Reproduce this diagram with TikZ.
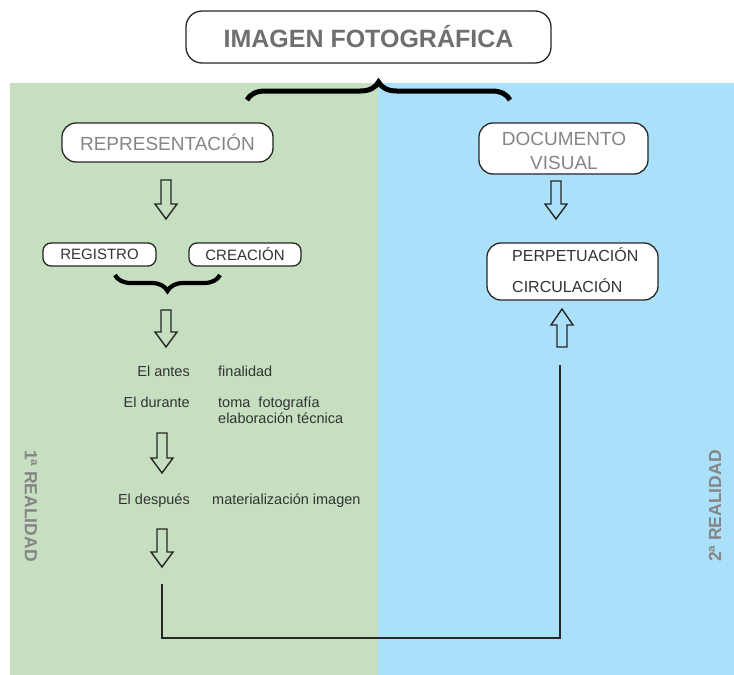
\documentclass[tikz,border=0pt]{standalone}
\usepackage{fontspec}
\setmainfont{Liberation Sans}
\usetikzlibrary{decorations.pathreplacing}
\definecolor{bggreen}{HTML}{C5DFC0}
\definecolor{bgblue}{HTML}{AAE0FA}
\definecolor{titlegray}{HTML}{6E6F71}
\definecolor{lightgray}{HTML}{858585}
\definecolor{darktext}{HTML}{333333}
\tikzset{
  rbox/.style={draw=black!85, line width=1.3pt, fill=white, rounded corners=14pt, inner sep=0pt},
  hollowarrow/.style={draw=black!85, line width=1.4pt, line join=miter},
  smalltext/.style={font=\fontsize{14.5}{16}\selectfont, text=darktext, inner sep=0pt},
  sidelabel/.style={font=\fontsize{17.5}{19}\selectfont\bfseries, text=lightgray, inner sep=0pt},
  bigbrace/.style={decorate, decoration={brace, amplitude=18pt}, line width=5pt},
  link/.style={draw=black!85, line width=1.3pt}
}
\begin{document}
\begin{tikzpicture}[x=1pt,y=-1pt]
\useasboundingbox (0,0) rectangle (734,675);
% backgrounds
\fill[bggreen] (10,83) rectangle (378,675);
\fill[bgblue] (378,83) rectangle (734,675);
% title
\node[rbox, rounded corners=16pt, minimum width=365pt, minimum height=52pt,
  font=\fontsize{25}{28}\selectfont\bfseries, text=titlegray] (title) at (368.5,37) {IMAGEN FOTOGRÁFICA};
% big brace
\coordinate (bbl) at (247,100);
\coordinate (bbr) at (510,100);
\draw[bigbrace] (bbl) -- (bbr);
% left column
\node[rbox, minimum width=211pt, minimum height=39pt,
  font=\fontsize{19}{22}\selectfont, text=lightgray] (repr) at (167.5,142.5) {REPRESENTACIÓN};
\node[rbox, rounded corners=8pt, minimum width=113pt, minimum height=23pt,
  font=\fontsize{15}{17}\selectfont, text=darktext] (reg) at (99.5,254.5) {REGISTRO};
\node[rbox, rounded corners=8pt, minimum width=112pt, minimum height=23pt,
  font=\fontsize{15}{17}\selectfont, text=darktext] (crea) at (245,254.5) {CREACIÓN};
\coordinate (sbl) at (220,275);
\coordinate (sbr) at (115,275);
\draw[decorate, decoration={brace, amplitude=16pt}, line width=4.2pt] (sbl) -- (sbr);
% hollow arrows (down)
\foreach \cx/\t/\b/\h in {166/180/219/204, 166/310/347/332, 162/433/473/458, 162/529/567/552, 556/181/219/204}{
  \draw[hollowarrow] (\cx-5,\t) -- (\cx+5,\t) -- (\cx+5,\h) -- (\cx+11,\h) -- (\cx,\b) -- (\cx-11,\h) -- (\cx-5,\h) -- cycle;
}
% up arrow
\draw[hollowarrow] (557,347) -- (567,347) -- (567,325) -- (573,325) -- (562,309) -- (551,325) -- (557,325) -- cycle;
% texts
\node[smalltext, anchor=base east] (antes) at (190,376) {El antes};
\node[smalltext, anchor=base west] (fin) at (218,376) {finalidad};
\node[smalltext, anchor=base east] (durante) at (190,407) {El durante};
\node[smalltext, anchor=base west] (toma) at (218,407) {toma\ \ fotografía};
\node[smalltext, anchor=base west] (elab) at (218,423) {elaboración técnica};
\node[smalltext, anchor=base east] (despues) at (190,504) {El después};
\node[smalltext, anchor=base west] (mat) at (212,504) {materialización imagen};
% right column
\node[rbox, minimum width=169pt, minimum height=51pt] (doc) at (563.5,148.5) {};
\node[font=\fontsize{19}{22}\selectfont, text=lightgray, inner sep=0pt, anchor=base] (doc1) at (564,145) {DOCUMENTO};
\node[font=\fontsize{19}{22}\selectfont, text=lightgray, inner sep=0pt, anchor=base] (doc2) at (564,169) {VISUAL};
\node[rbox, minimum width=171pt, minimum height=57pt] (perp) at (572.5,271.5) {};
\node[font=\fontsize{16}{18}\selectfont, text=darktext, inner sep=0pt, anchor=base west] (perp1) at (512,261) {PERPETUACIÓN};
\node[font=\fontsize{16}{18}\selectfont, text=darktext, inner sep=0pt, anchor=base west] (perp2) at (512,292) {CIRCULACIÓN};
% side labels
\node[sidelabel, rotate=-90] (real1) at (31,506) {1ª REALIDAD};
\node[sidelabel, rotate=90] (real2) at (715,506) {2ª REALIDAD};
% connector
\coordinate (c1) at (162,584);
\coordinate (c2) at (162,638);
\coordinate (c3) at (560,638);
\coordinate (c4) at (560,365);
\draw[link] (c1) -- (c2) -- (c3) -- (c4);
\end{tikzpicture}
\end{document}
